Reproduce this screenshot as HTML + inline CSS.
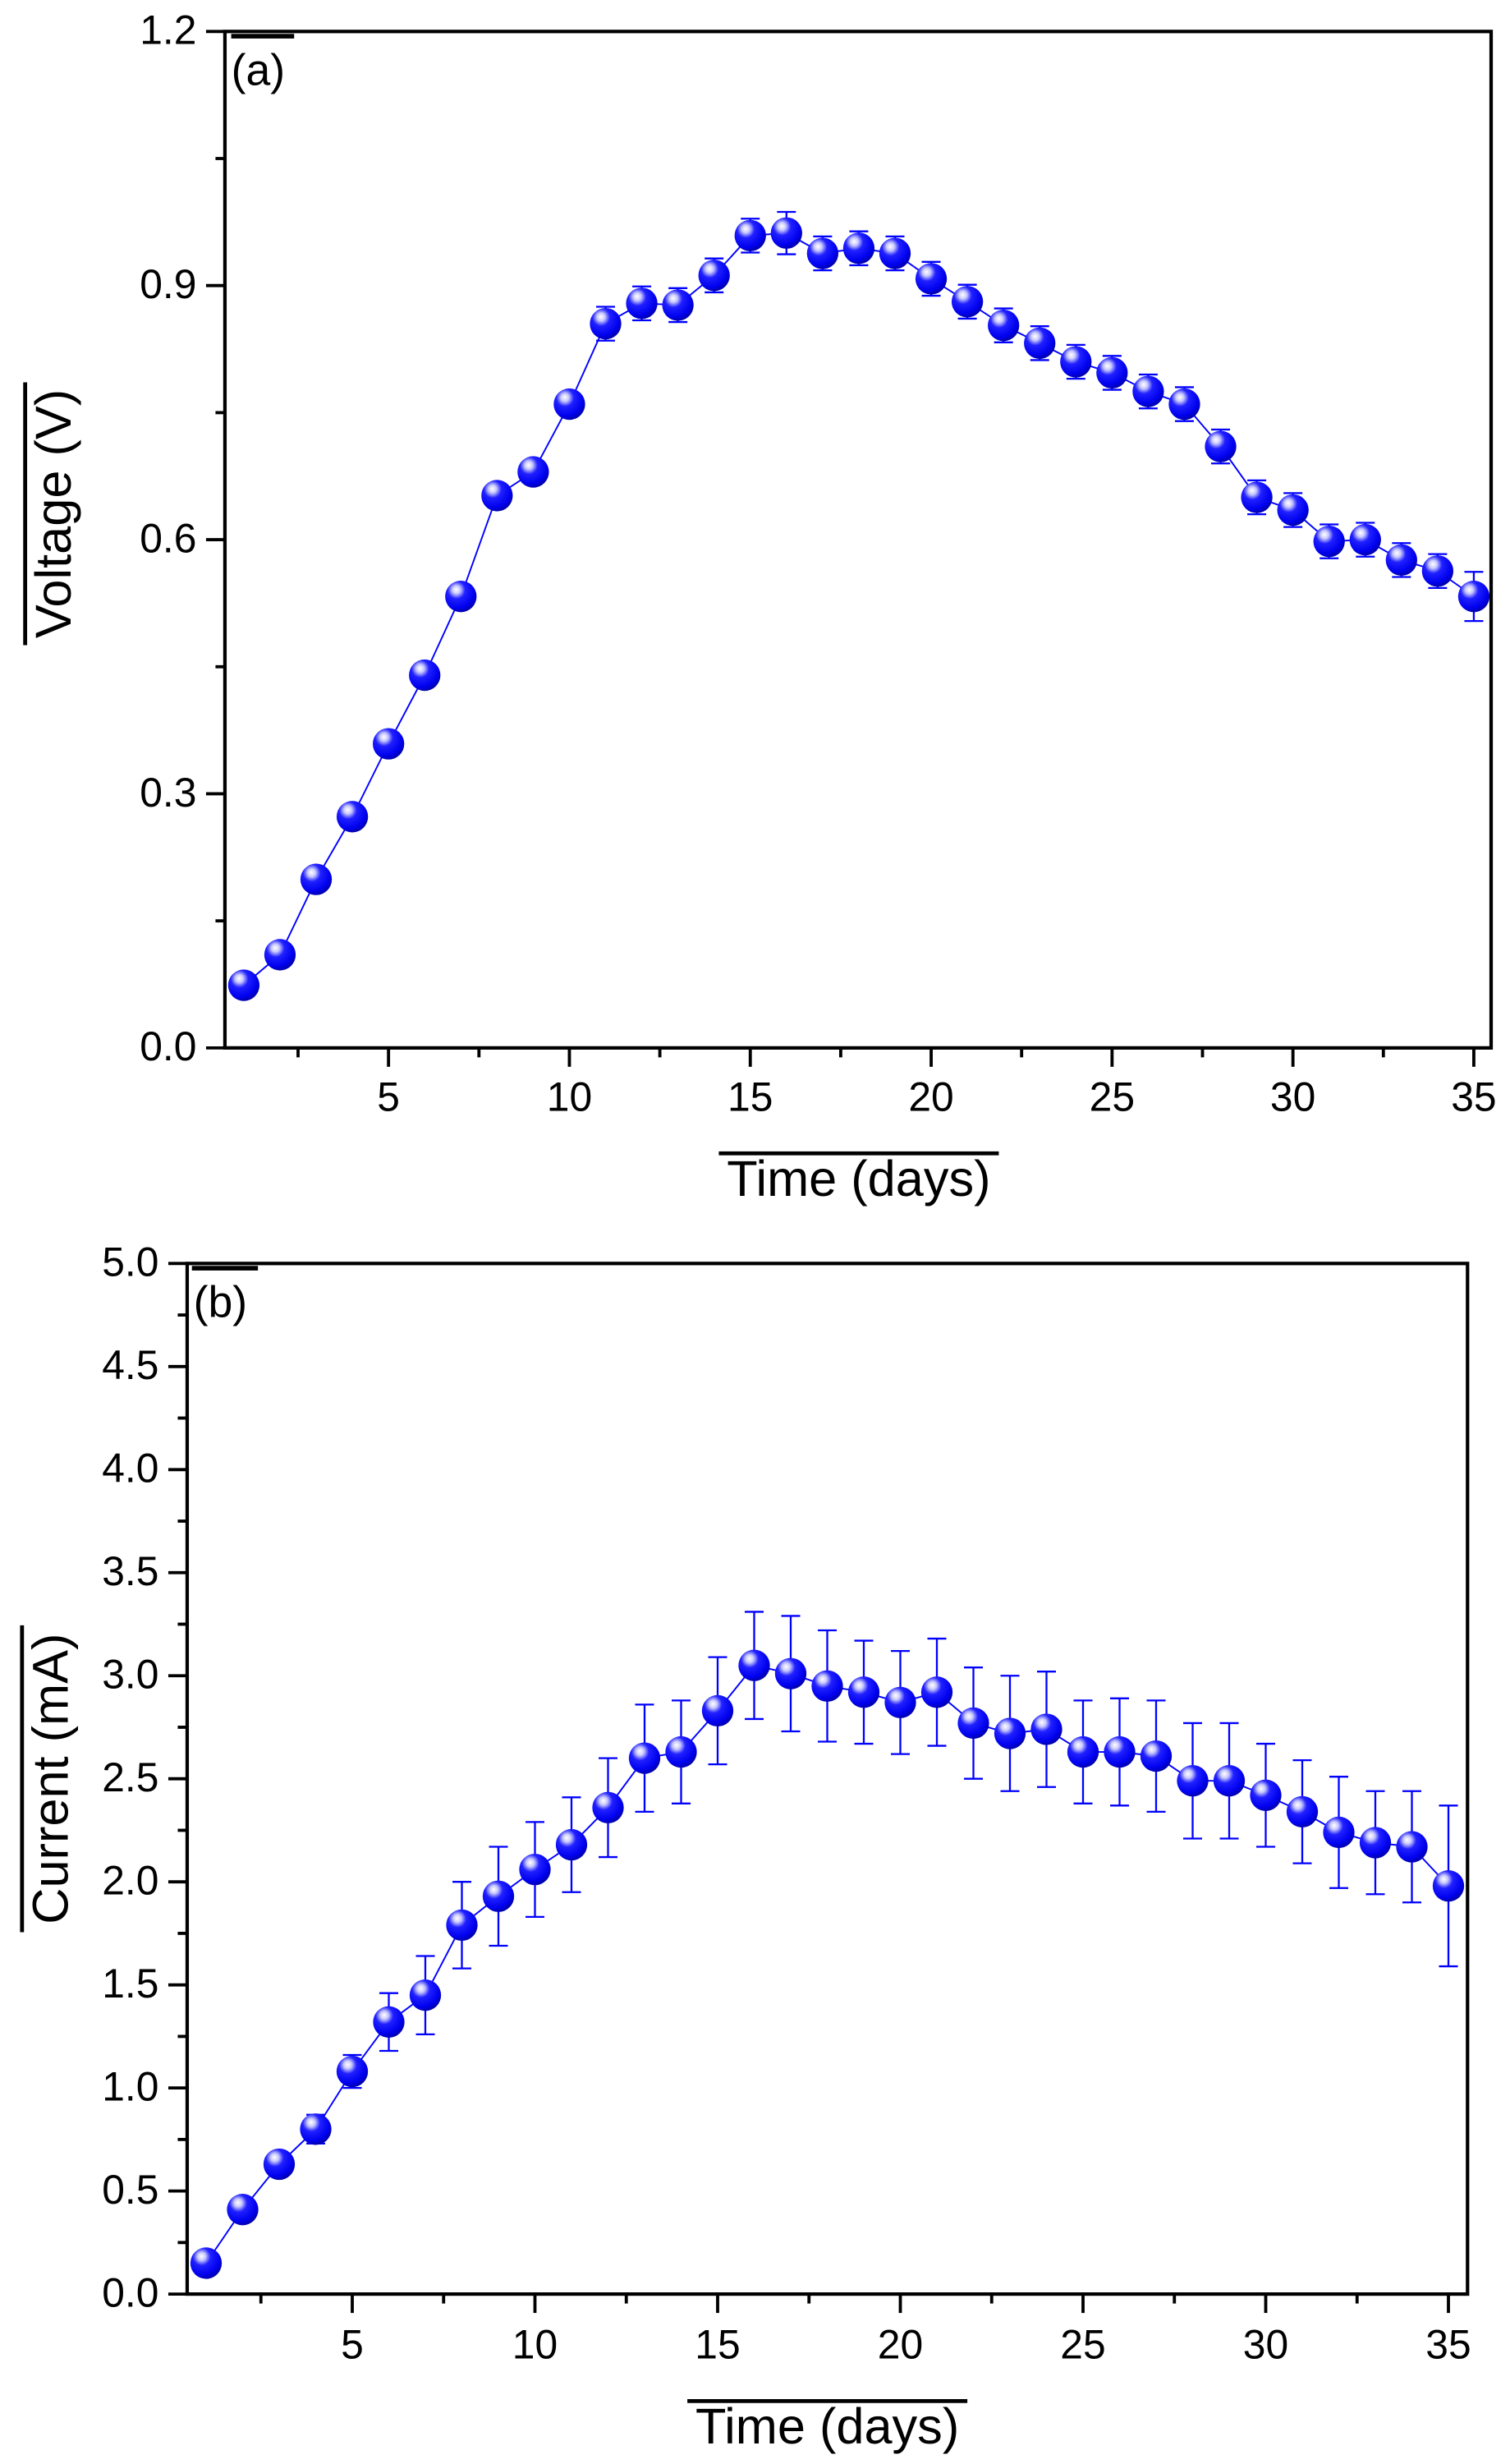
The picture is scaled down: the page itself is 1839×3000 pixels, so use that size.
<!DOCTYPE html>
<html><head><meta charset="utf-8"><style>
html,body{margin:0;padding:0;background:#fff;}
svg{display:block;font-family:"Liberation Sans",Arial,sans-serif;}
</style></head><body>
<svg id="fig" width="1839" height="3000" viewBox="0 0 960 1566" preserveAspectRatio="none" xmlns="http://www.w3.org/2000/svg">
<defs>
<radialGradient id="ball" cx="0.38" cy="0.32" r="0.7" fx="0.35" fy="0.28">
<stop offset="0" stop-color="#ffffff"/>
<stop offset="0.18" stop-color="#c8c8ff"/>
<stop offset="0.4" stop-color="#2020ff"/>
<stop offset="0.8" stop-color="#0000ee"/>
<stop offset="1" stop-color="#0000aa"/>
</radialGradient>
</defs>
<g id="pa"></g>
<g id="pb"></g>
</svg>
<script>
const days = [1,2,3,4,5,6,7,8,9,10,11,12,13,14,15,16,17,18,19,20,21,22,23,24,25,26,27,28,29,30,31,32,33,34,35];
const voltage = [0.074,0.11,0.199,0.273,0.359,0.44,0.533,0.652,0.68,0.76,0.855,0.879,0.877,0.912,0.959,0.962,0.938,0.944,0.938,0.908,0.881,0.853,0.832,0.81,0.797,0.775,0.76,0.71,0.65,0.635,0.598,0.6,0.576,0.563,0.533];
const voltageErr = [0.008,0.008,0.008,0.008,0.008,0.008,0.01,0.01,0.01,0.01,0.02,0.02,0.02,0.02,0.02,0.025,0.02,0.02,0.02,0.02,0.02,0.02,0.02,0.02,0.02,0.02,0.02,0.02,0.02,0.02,0.02,0.02,0.02,0.02,0.029];
const current = [0.15,0.41,0.63,0.80,1.08,1.32,1.45,1.79,1.93,2.06,2.18,2.36,2.60,2.63,2.83,3.05,3.01,2.95,2.92,2.87,2.92,2.77,2.72,2.74,2.63,2.63,2.61,2.49,2.49,2.42,2.34,2.24,2.19,2.17,1.98];
const currentErr = [0.05,0.05,0.05,0.07,0.08,0.14,0.19,0.21,0.24,0.23,0.23,0.24,0.26,0.25,0.26,0.26,0.28,0.27,0.25,0.25,0.26,0.27,0.28,0.28,0.25,0.26,0.27,0.28,0.28,0.25,0.25,0.27,0.25,0.27,0.39];
const voltTicks = ["0.0","0.3","0.6","0.9","1.2"];
const currTicks = ["0.0","0.5","1.0","1.5","2.0","2.5","3.0","3.5","4.0","4.5","5.0"];
const xTicks = ["5","10","15","20","25","30","35"];

const NS="http://www.w3.org/2000/svg";
function mk(parent,tag,attrs,text){const e=document.createElementNS(NS,tag);for(const k in attrs)e.setAttribute(k,attrs[k]);if(text!==undefined)e.textContent=text;parent.appendChild(e);return e;}

function panel(g,cfg){
  const {L,R,T,B,x0,xpd,ymax,yTicks,yMinorStep,vals,errs,label,ytitle,ytitleY,yLineTop,yLineBot,xTitleX,xLine,labLine,tickX}=cfg;
  const sx=d=>x0+d*xpd;
  const sy=v=>B-(v/ymax)*(B-T);
  let dpath="";
  for(let i=0;i<days.length;i++){dpath+=(i?"L":"M")+sx(days[i]).toFixed(2)+","+sy(vals[i]).toFixed(2);}
  const ln=mk(g,"path",{d:dpath,fill:"none",stroke:"#0000ff","stroke-width":1});
  
  
  for(let i=0;i<days.length;i++){
    const x=sx(days[i]),y1=sy(vals[i]+errs[i]),y2=sy(vals[i]-errs[i]);
    const eb=mk(g,"path",{d:`M${x},${y1}L${x},${y2}M${x-6},${y1}L${x+6},${y1}M${x-6},${y2}L${x+6},${y2}`,stroke:"#0000ff","stroke-width":1.2,fill:"none"});
    
    
  }
  for(let i=0;i<days.length;i++){
    const c=mk(g,"circle",{cx:sx(days[i]),cy:sy(vals[i]),r:10,fill:"url(#ball)"});
    
    
  }
  const fr=mk(g,"rect",{x:L,y:T,width:R-L,height:B-T,fill:"none",stroke:"#000","stroke-width":2.2});
  
  
  const nMinor=Math.round(ymax/yMinorStep);
  for(let k=0;k<=nMinor;k++){
    const v=k*yMinorStep,y=sy(v),major=k%2===0;
    mk(g,"line",{x1:L,x2:L-(major?12:6),y1:y,y2:y,stroke:"#000","stroke-width":2});
  }
  yTicks.forEach((t,i)=>{
    const y=sy(parseFloat(t));
    const te=mk(g,"text",{x:L-18,y:y+8,"text-anchor":"end","font-size":26},t);
    
    
  });
  for(let d=2.5;d<=35.01;d+=2.5){
    const x=sx(d),major=Math.abs(d%5)<0.01;
    mk(g,"line",{x1:x,x2:x,y1:B,y2:B+(major?12:6),stroke:"#000","stroke-width":2});
  }
  xTicks.forEach(t=>{
    const te=mk(g,"text",{x:sx(parseFloat(t)),y:B+tickX,"text-anchor":"middle","font-size":26},t);
    
    
  });
  const xt=mk(g,"text",{x:xTitleX,y:xLine+27,"text-anchor":"middle","font-size":32},"Time (days)");
  
  
  mk(g,"line",{x1:xTitleX-89,x2:xTitleX+89,y1:xLine,y2:xLine,stroke:"#000","stroke-width":2.5});
  const cy=(yLineTop+yLineBot)/2;
  const yt=mk(g,"text",{x:0,y:0,"text-anchor":"middle","font-size":32,transform:`translate(${ytitleY},${cy}) rotate(-90)`},ytitle);
  
  
  mk(g,"line",{x1:ytitleY-29,x2:ytitleY-29,y1:yLineTop,y2:yLineBot,stroke:"#000","stroke-width":2.5});
  const pl=mk(g,"text",{x:L+4,y:T+34,"font-size":28},label);
  
  
  mk(g,"line",{x1:labLine[0],x2:labLine[1],y1:T+3,y2:T+3,stroke:"#000","stroke-width":3});
}

panel(document.getElementById('pa'),{L:143,R:948,T:20,B:666,x0:132,xpd:23,ymax:1.2,yTicks:voltTicks,yMinorStep:0.15,
  vals:voltage,errs:voltageErr,label:"(a)",ytitle:"Voltage (V)",ytitleY:45,yLineTop:243,yLineBot:410,xTitleX:546,xLine:733,labLine:[147,187],tickX:40});
panel(document.getElementById('pb'),{L:119,R:933,T:803,B:1458,x0:107.8,xpd:23.23,ymax:5,yTicks:currTicks,yMinorStep:0.25,
  vals:current,errs:currentErr,label:"(b)",ytitle:"Current (mA)",ytitleY:43,yLineTop:1033,yLineBot:1228,xTitleX:526,xLine:1526,labLine:[122,164],tickX:41});
</script>
</body></html>
